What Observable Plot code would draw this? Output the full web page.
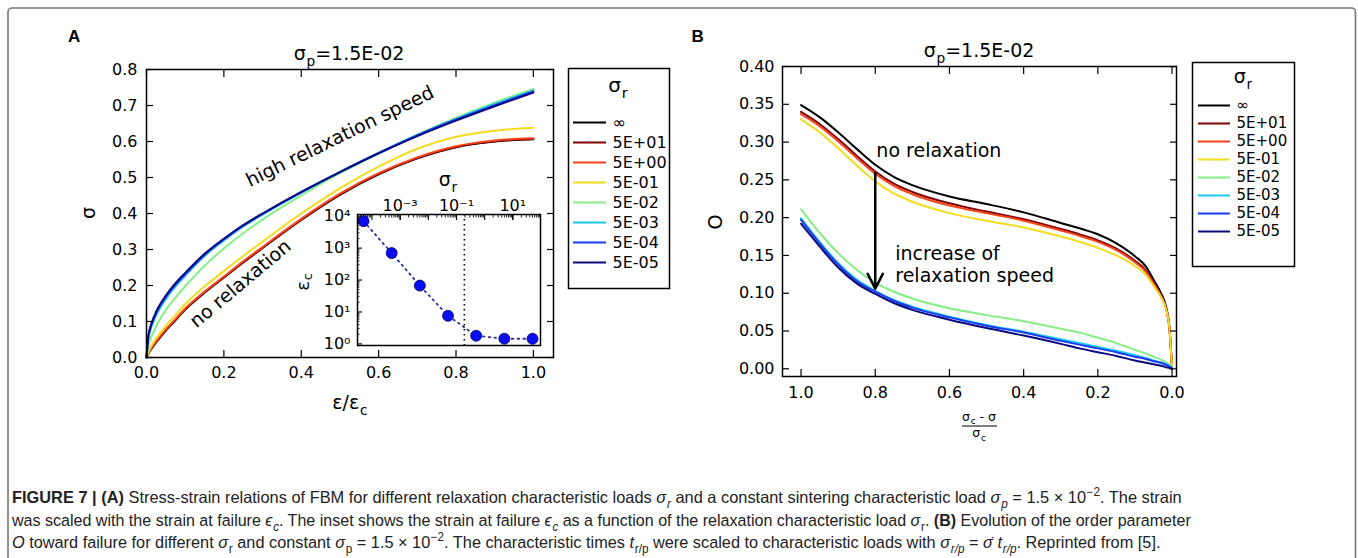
<!DOCTYPE html>
<html><head><meta charset="utf-8">
<script src="https://cdn.jsdelivr.net/npm/d3@7"></script>
<script src="https://cdn.jsdelivr.net/npm/@observablehq/plot@0.6"></script>
<style>
html,body{margin:0;padding:0;background:#fff;}
#fig{position:relative;width:1358px;height:558px;overflow:hidden;background:#fff;}
</style>
</head><body><div id="fig"></div>
<script>
// ---------------- data ----------------
const seriesLabels = ["∞","5E+01","5E+00","5E-01","5E-02","5E-03","5E-04","5E-05"];
const seriesColors = ["#000000","#7f0000","#f44418","#f2dc1e","#85ee85","#19c8f5","#1a3cf0","#0a0a80"];

// Panel A: stress vs strain/strain at failure
const strainA   = [0, .005, .01, .02, .03, .05, .07, .1, .15, .2, .25, .3, .4, .5, .6, .7, .8, .9, 1.0];
const sigA_inf  = [0, .011, .020, .035, .049, .075, .098, .133, .180, .222, .264, .304, .382, .452, .509, .553, .584, .600, .606];
const sigA_5e1  = [0, .011, .021, .036, .050, .076, .099, .134, .181, .223, .265, .305, .383, .453, .510, .554, .585, .601, .607];
const sigA_5e0  = [0, .012, .022, .038, .052, .078, .101, .136, .183, .225, .267, .307, .385, .455, .512, .556, .587, .603, .609];
const sigA_5em1 = [0, .015, .027, .045, .060, .088, .112, .148, .197, .240, .282, .322, .400, .470, .530, .580, .613, .630, .638];
const sigA_5em2 = [0, .032, .050, .075, .097, .132, .160, .198, .255, .303, .345, .383, .450, .512, .567, .619, .666, .708, .746];
const sigA_5em3 = [0, .052, .076, .105, .128, .162, .191, .227, .282, .325, .364, .397, .458, .515, .568, .618, .663, .704, .742];
const sigA_5em4 = [0, .058, .081, .111, .134, .168, .196, .231, .285, .328, .366, .399, .459, .515, .568, .617, .661, .701, .739];
const sigA_5em5 = [0, .062, .085, .115, .138, .172, .200, .235, .288, .330, .368, .400, .460, .515, .567, .615, .658, .698, .736];
const seriesA = [sigA_inf, sigA_5e1, sigA_5e0, sigA_5em1, sigA_5em2, sigA_5em3, sigA_5em4, sigA_5em5];

// Inset: strain at failure vs relaxation load
const insetSigmaR = [5e-5, 5e-4, 5e-3, 5e-2, 5e-1, 5, 50];
const insetEpsC   = [7000, 700, 67, 7.6, 1.8, 1.45, 1.45];
const insetVLine  = [0.19];

// Panel B: order parameter vs (sigma_c - sigma)/sigma_c
const relB     = [1.0, .95, .9, .85, .8, .75, .7, .6, .5, .4, .3, .25, .2, .15, .1, .07, .05, .03, .015, .007, 0];
const oB_inf   = [.349,.333,.313,.291,.270,.254,.243,.228,.218,.207,.193,.186,.178,.166,.149,.135,.118,.100,.080,.055,.000];
const oB_5e1   = [.340,.324,.304,.282,.261,.245,.234,.219,.208,.198,.185,.178,.170,.159,.143,.130,.114,.097,.078,.053,.000];
const oB_5e0   = [.337,.321,.301,.279,.258,.242,.231,.216,.206,.196,.183,.176,.168,.157,.141,.128,.113,.096,.077,.053,.000];
const oB_5em1  = [.330,.313,.292,.269,.248,.232,.221,.206,.196,.187,.175,.168,.160,.150,.136,.124,.110,.095,.077,.054,.000];
const oB_5em2  = [.211,.180,.153,.131,.114,.102,.093,.080,.071,.063,.053,.048,.041,.034,.025,.020,.016,.012,.008,.005,.002];
const oB_5em3  = [.199,.168,.140,.118,.103,.091,.082,.069,.058,.049,.039,.034,.029,.024,.018,.014,.011,.008,.006,.004,.002];
const oB_5em4  = [.197,.166,.138,.116,.102,.090,.081,.068,.057,.048,.037,.032,.027,.022,.016,.013,.010,.008,.005,.003,.000];
const oB_5em5  = [.192,.162,.134,.113,.099,.087,.078,.065,.054,.044,.033,.027,.022,.017,.011,.008,.006,.004,.002,.001,.000];
const seriesB = [oB_inf, oB_5e1, oB_5e0, oB_5em1, oB_5em2, oB_5em3, oB_5em4, oB_5em5];

// ticks
const xTicksA = [0, 0.2, 0.4, 0.6, 0.8, 1.0];
const yTicksA = [0, 0.1, 0.2, 0.3, 0.4, 0.5, 0.6, 0.7, 0.8];
const xTicksB = [1.0, 0.8, 0.6, 0.4, 0.2, 0.0];
const yTicksB = [0, 0.05, 0.10, 0.15, 0.20, 0.25, 0.30, 0.35, 0.40];
const insetYMajor = [1, 10, 100, 1000, 10000];
const insetXMajor = [1e-4, 1e-3, 1e-2, 1e-1, 1, 10];
const insetXLabels = [1e-3, 1e-1, 10];

// annotations
const annA_high = [{x: 0.50, y: 0.614, t: "high relaxation speed"}];
const annA_no   = [{x: 0.243, y: 0.205, t: "no relaxation"}];
const annB      = [{x: 0.797, y: 0.288, t: "no relaxation"}, {x: 0.746, y: 0.1517, t: "increase of"}, {x: 0.746, y: 0.123, t: "relaxation speed"}];
const arrowB    = [{x: 0.8, y1: 0.259, y2: 0.106}];

// ---------------- helpers ----------------
const fig = document.getElementById("fig");
const FONT = "DejaVu Sans, sans-serif";
const baseStyle = {fontFamily: FONT, fontSize: "16px", background: "transparent", overflow: "visible", maxWidth: "none", color: "#000"};
function place(node, left, top) {
  const d = document.createElement("div");
  d.style.cssText = `position:absolute;left:${left}px;top:${top}px;`;
  d.appendChild(node);
  fig.appendChild(d);
}
const supMap = {"-":"⁻","0":"⁰","1":"¹","2":"²","3":"³","4":"⁴","5":"⁵","6":"⁶","7":"⁷","8":"⁸","9":"⁹"};
const supFmt = d => "10" + String(Math.round(Math.log10(d))).split("").map(c => supMap[c] || c).join("");
const minorTicks = (lo, hi) => { const out = []; for (let k = lo; k < hi; k++) for (let m = 2; m <= 9; m++) out.push(m * Math.pow(10, k)); return out; };
const empty = () => "";

function longData(xs, series) {
  const out = [];
  series.forEach((ys, i) => ys.forEach((y, j) => out.push({x: xs[j], y, s: seriesLabels[i]})));
  return out;
}

// ---------------- Panel A ----------------
const plotA = Plot.plot({
  width: 560, height: 420,
  marginLeft: 146, marginRight: 7, marginTop: 69, marginBottom: 63,
  style: baseStyle,
  x: {domain: [0, 1.052]},
  y: {domain: [0, 0.8]},
  color: {domain: seriesLabels, range: seriesColors},
  marks: [
    Plot.line(longData(strainA, seriesA), {x: "x", y: "y", z: "s", stroke: "s", strokeWidth: 2, curve: "monotone-x"}),
    Plot.frame({stroke: "#000", strokeWidth: 1.5}),
    Plot.axisX(xTicksA, {anchor: "bottom", tickSize: -7, tickPadding: 16, tickFormat: d3.format(".1f"), label: null, fontSize: 16, strokeWidth: 1.2}),
    Plot.axisX(xTicksA, {anchor: "top", tickSize: -7, tickFormat: empty, label: null, strokeWidth: 1.2}),
    Plot.axisY(yTicksA, {anchor: "left", tickSize: -7, tickPadding: 16, tickFormat: d3.format(".1f"), label: null, fontSize: 16, strokeWidth: 1.2}),
    Plot.axisY(yTicksA, {anchor: "right", tickSize: -7, tickFormat: empty, label: null, strokeWidth: 1.2}),
    Plot.text(annA_high, {x: "x", y: "y", text: "t", rotate: -26, fontSize: 19}),
    Plot.text(annA_no, {x: "x", y: "y", text: "t", rotate: -40, fontSize: 19})
  ]
});
place(plotA, 0, 0);

// ---------------- Inset ----------------
const insetData = insetSigmaR.map((s, i) => ({s, e: insetEpsC[i]}));
const inset = Plot.plot({
  width: 560, height: 420,
  marginLeft: 357, marginRight: 20, marginTop: 214, marginBottom: 75,
  style: baseStyle,
  x: {type: "log", domain: [3.06e-5, 96]},
  y: {type: "log", domain: [0.89, 1.13e4]},
  marks: [
    Plot.frame({fill: "white", stroke: "none"}),
    Plot.ruleX(insetVLine, {stroke: "#000", strokeWidth: 1.6, strokeDasharray: "1.5,3.5"}),
    Plot.line(insetData, {x: "s", y: "e", stroke: "#2a2aa6", strokeWidth: 1.8, strokeDasharray: "1.6,4.2"}),
    Plot.dot(insetData, {x: "s", y: "e", r: 5.5, fill: "#0c0cf0", stroke: "#00006a", strokeWidth: 0.8}),
    Plot.frame({stroke: "#000", strokeWidth: 1.5}),
    Plot.axisY(insetYMajor, {anchor: "left", tickSize: -5, tickPadding: 12, tickFormat: supFmt, label: null, fontSize: 16, strokeWidth: 1.1}),
    Plot.axisY(minorTicks(0, 4), {anchor: "left", tickSize: -2.5, tickFormat: empty, label: null, strokeWidth: 0.9}),
    Plot.axisX(insetXLabels, {anchor: "top", tickSize: -5, tickPadding: 9, tickFormat: supFmt, label: null, fontSize: 16, strokeWidth: 1.1}),
    Plot.axisX(insetXMajor, {anchor: "top", tickSize: -5, tickFormat: empty, label: null, strokeWidth: 1.1}),
    Plot.axisX(minorTicks(-5, 2).filter(v => v > 3.06e-5 && v < 96), {anchor: "top", tickSize: -2.5, tickFormat: empty, label: null, strokeWidth: 0.9})
  ]
});
place(inset, 0, 0);

// ---------------- Panel B ----------------
const plotB = Plot.plot({
  width: 526, height: 446,
  marginLeft: 122, marginRight: 10, marginTop: 66, marginBottom: 70,
  style: baseStyle,
  x: {domain: [1.05, -0.012]},
  y: {domain: [-0.0102, 0.40]},
  color: {domain: seriesLabels, range: seriesColors},
  marks: [
    Plot.line(longData(relB, seriesB), {x: "x", y: "y", z: "s", stroke: "s", strokeWidth: 2, curve: "monotone-x"}),
    Plot.frame({stroke: "#000", strokeWidth: 1.5}),
    Plot.axisX(xTicksB, {anchor: "bottom", tickSize: -7, tickPadding: 17, tickFormat: d3.format(".1f"), label: null, fontSize: 16, strokeWidth: 1.2}),
    Plot.axisX(xTicksB, {anchor: "top", tickSize: -7, tickFormat: empty, label: null, strokeWidth: 1.2}),
    Plot.axisY(yTicksB, {anchor: "left", tickSize: -7, tickPadding: 15, tickFormat: d3.format(".2f"), label: null, fontSize: 16, strokeWidth: 1.2}),
    Plot.axisY(yTicksB, {anchor: "right", tickSize: -7, tickFormat: empty, label: null, strokeWidth: 1.2}),
    Plot.arrow(arrowB, {x1: "x", x2: "x", y1: "y1", y2: "y2", stroke: "#000", strokeWidth: 2.5, headLength: 10, headAngle: 54}),
    Plot.text(annB, {x: "x", y: "y", text: "t", textAnchor: "start", fontSize: 19})
  ]
});
place(plotB, 660, 0);

// ---------------- Legends ----------------
function legendPlot(w, h, rowRange, lineRange, fs) {
  return Plot.plot({
    width: w, height: h, margin: 1,
    style: {...baseStyle, fontSize: fs + "px"},
    x: {domain: [0, 1], range: lineRange, axis: null},
    y: {type: "point", domain: seriesLabels, range: rowRange, axis: null},
    color: {domain: seriesLabels, range: seriesColors},
    marks: [
      Plot.frame({stroke: "#000", strokeWidth: 1.5}),
      Plot.ruleY(seriesLabels, {y: d => d, x1: 0, x2: 1, stroke: d => d, strokeWidth: 2}),
      Plot.text(seriesLabels, {y: d => d, x: 1, dx: 6, text: d => d, textAnchor: "start", fontSize: fs})
    ]
  });
}
place(legendPlot(103, 222, [44, 205], [6, 39], 16), 567, 67);
place(legendPlot(104, 206, [32, 182], [7, 39], 15), 1191, 61);

// ---------------- Overlay texts ----------------
const over = d3.select(fig).append("svg").attr("width", 1358).attr("height", 558)
  .style("position", "absolute").style("left", "0px").style("top", "0px").style("overflow", "visible");

over.append("rect").attr("x", 8).attr("y", 8).attr("width", 1347.5).attr("height", 620).attr("rx", 4)
  .attr("fill", "none").attr("stroke", "#777").attr("stroke-width", 1.6);

function rich(x, y, segs, o = {}) {
  const size = o.size || 16;
  const t = over.append("text").attr("x", x).attr("y", y)
    .attr("font-family", o.family || FONT).attr("font-size", size)
    .attr("text-anchor", o.anchor || "start").attr("fill", o.fill || "#000");
  if (o.weight) t.attr("font-weight", o.weight);
  if (o.rotate) t.attr("transform", `rotate(${o.rotate},${x},${y})`);
  if (o.baseline) t.attr("dominant-baseline", o.baseline);
  let shift = 0;
  for (const seg of segs) {
    const [str, f = ""] = Array.isArray(seg) ? seg : [seg, ""];
    const flags = f.split(" ");
    const sp = t.append("tspan").text(str);
    let target = 0, fs = size;
    if (flags.includes("sub")) { target = 0.3 * size; fs = 0.72 * size; sp.attr("dx", 0.8); }
    if (flags.includes("sup")) { target = -0.42 * size; fs = 0.72 * size; sp.attr("dx", 0.5); }
    if (target !== shift) { sp.attr("dy", target - shift); shift = target; }
    if (fs !== size) sp.attr("font-size", fs);
    if (flags.includes("i")) sp.attr("font-style", "italic");
    if (flags.includes("b")) sp.attr("font-weight", "bold");
  }
  if (o.fitWidth) {
    const w = t.node().getComputedTextLength();
    const k = o.fitWidth / w;
    t.attr("transform", `translate(${x},0) scale(${k},1) translate(${-x},0)`);
  }
  return t;
}

// panel letters
rich(68, 42, ["A"], {size: 17, weight: "bold", family: "Liberation Sans, Arial, sans-serif"});
rich(691.5, 42, ["B"], {size: 17, weight: "bold", family: "Liberation Sans, Arial, sans-serif"});
// titles
rich(349, 60, ["σ", ["p", "sub"], "=1.5E-02"], {size: 19, anchor: "middle"});
rich(979, 57, ["σ", ["p", "sub"], "=1.5E-02"], {size: 19, anchor: "middle"});
// axis labels A
rich(88, 213, ["σ"], {size: 19, anchor: "middle", baseline: "central", rotate: -90});
rich(350, 409, ["ε/ε", ["c", "sub"]], {size: 19, anchor: "middle"});
// inset labels
rich(302, 282, ["ε", ["c", "sub"]], {size: 18, anchor: "middle", baseline: "central", rotate: -90});
rich(448, 186, ["σ", ["r", "sub"]], {size: 19, anchor: "middle"});
// axis labels B
rich(715, 222, ["O"], {size: 19, anchor: "middle", baseline: "central", rotate: -90});
rich(979, 420.5, ["σ", ["c", "sub"], " - σ"], {size: 12.5, anchor: "middle"});
over.append("line").attr("x1", 962).attr("x2", 997).attr("y1", 426).attr("y2", 426).attr("stroke", "#000").attr("stroke-width", 1);
rich(979, 437, ["σ", ["c", "sub"]], {size: 12.5, anchor: "middle"});
// legend titles
rich(618, 91.5, ["σ", ["r", "sub"]], {size: 20, anchor: "middle"});
rich(1243, 83, ["σ", ["r", "sub"]], {size: 19, anchor: "middle"});

// caption
const CAP = {size: 16.5, family: "Liberation Sans Narrow, Liberation Sans, Arial, sans-serif", fill: "#222"};
rich(12, 503, [["FIGURE 7 | (A)", "b"], " Stress-strain relations of FBM for different relaxation characteristic loads ", ["σ", "i"], ["r", "i sub"],
  " and a constant sintering characteristic load ", ["σ", "i"], ["p", "i sub"], " = 1.5 × 10", ["−2", "sup"], ". The strain"], {...CAP, fitWidth: 1168});
rich(12, 526, ["was scaled with the strain at failure ", ["ϵ", "i"], ["c", "i sub"], ". The inset shows the strain at failure ", ["ϵ", "i"], ["c", "i sub"],
  " as a function of the relaxation characteristic load ", ["σ", "i"], ["r", "sub"], ". ", ["(B)", "b"], " Evolution of the order parameter"], {...CAP, fitWidth: 1178});
rich(12, 548, [["O", "i"], " toward failure for different ", ["σ", "i"], ["r", "sub"], " and constant ", ["σ", "i"], ["p", "sub"], " = 1.5 × 10", ["−2", "sup"],
  ". The characteristic times ", ["t", "i"], ["r/p", "sub"], " were scaled to characteristic loads with ", ["σ", "i"], ["r/p", "i sub"], " = ", ["σ̇", "i"], " ", ["t", "i"], ["r/p", "i sub"],
  ". Reprinted from [5]."], {...CAP, fitWidth: 1145});
</script>
</body></html>
